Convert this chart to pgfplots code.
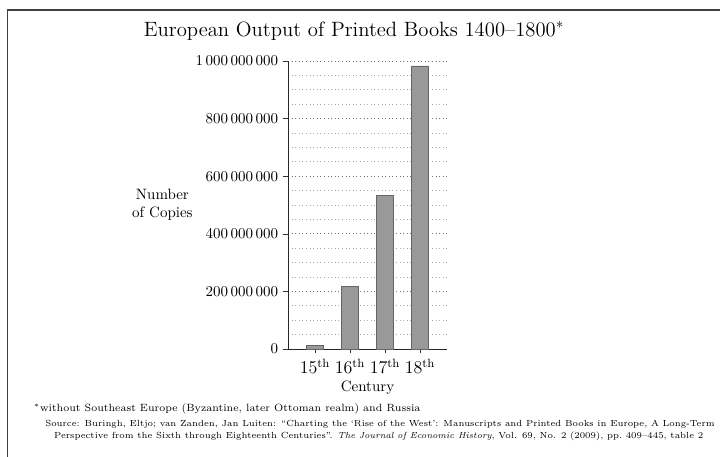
\documentclass[border=0pt]{standalone}
\usepackage{pgfplots}
\pgfplotsset{compat=1.18}
\begin{document}
\begin{tikzpicture}
\path[use as bounding box] (0,0) rectangle (480pt,304.67pt);
\draw[line width=0.7pt, black!75] (5.3pt,0) -- (5.3pt,298pt) -- (480pt,298pt);
\node[anchor=center, font=\fontsize{13.8}{16}\selectfont] at (236pt,284pt) {European Output of Printed Books 1400--1800$^{*}$};
\begin{axis}[
  at={(192pt,72pt)}, anchor=south west,
  scale only axis, width=106pt, height=192pt,
  xmin=-0.77, xmax=3.77,
  ymin=0, ymax=1000000000,
  axis x line*=bottom, axis y line*=left,
  axis line style={black!85, line width=0.6pt},
  xtick={0,1,2,3},
  xticklabels={$15^{\mathrm{th}}$,$16^{\mathrm{th}}$,$17^{\mathrm{th}}$,$18^{\mathrm{th}}$},
  x tick label style={font=\large},
  ytick={0,200000000,400000000,600000000,800000000,1000000000},
  minor y tick num=3,
  scaled y ticks=false,
  yticklabel style={/pgf/number format/.cd, fixed, 1000 sep={\,}},
  tick align=outside, major tick length=3pt, minor tick length=0pt,
  tick style={black!80},
  ymajorgrids, yminorgrids,
  major grid style={dotted, black!55},
  minor grid style={dotted, black!35},
  xlabel={Century},
  xlabel style={at={(axis description cs:0.5,0)}, anchor=center, yshift=-26pt},
  ylabel={Number\\of Copies},
  ylabel style={rotate=-90, align=center, at={(axis description cs:-0.79,0.5)}, anchor=center},
  clip=false,
]
\addplot[ybar, bar width=11.3pt, fill=black!40, draw=black!60] coordinates {
  (0,12589000) (1,217444000) (2,533214000) (3,983000000)
};
\end{axis}
\node[anchor=west, font=\fontsize{7}{8}\selectfont] at (19pt,32pt) {$^{*}$without Southeast Europe (Byzantine, later Ottoman realm) and Russia};
\node[anchor=base west, inner sep=0pt, font=\fontsize{5.9}{7}\selectfont] at (30pt,20.5pt) {Source: Buringh, Eltjo; van Zanden, Jan Luiten: ``Charting the `Rise of the West': Manuscripts and Printed Books in Europe, A Long-Term};
\node[anchor=base east, inner sep=0pt, font=\fontsize{5.9}{7}\selectfont] at (469pt,12.5pt) {Perspective from the Sixth through Eighteenth Centuries''. \textit{The Journal of Economic History}, Vol. 69, No. 2 (2009), pp.~409--445, table 2};
\end{tikzpicture}
\end{document}
